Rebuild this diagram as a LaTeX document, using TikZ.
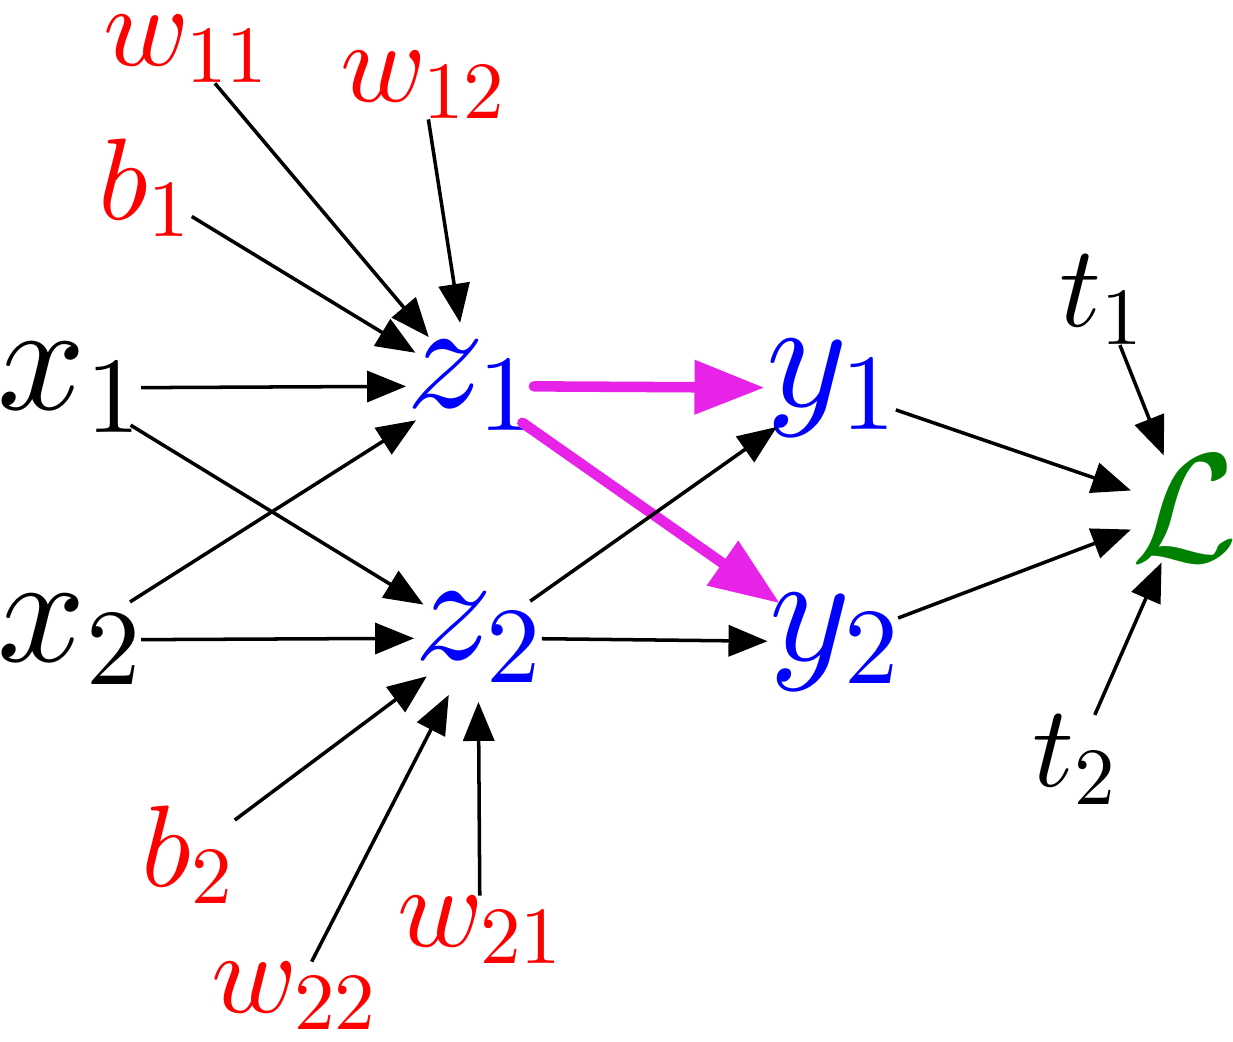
\RequirePackage{fix-cm}
\documentclass[tikz,border=0pt]{standalone}
\usetikzlibrary{arrows.meta}
\DeclareFontShape{OML}{cmm}{m}{it}{<->cmmi10}{}
\DeclareFontShape{OT1}{cmr}{m}{n}{<->cmr10}{}
\DeclareFontShape{OMS}{cmsy}{m}{n}{<->cmsy10}{}
\definecolor{gradmag}{RGB}{232,35,232}
\definecolor{lossgreen}{RGB}{0,128,0}

\begin{document}
\begin{tikzpicture}[
  big/.style={circle, inner sep=-3pt, font=\fontsize{44}{52}\selectfont},
  small/.style={rectangle, inner sep=0pt, font=\fontsize{33}{40}\selectfont},
  param/.style={small, text=red},
  unit/.style={big, text=blue},
  wire/.style={-{Triangle[length=3.9mm,width=3.1mm]}, line width=1pt},
  grad/.style={-{Triangle[length=7mm,width=5.2mm]}, line width=3pt, gradmag, line cap=round}
  ]
  \useasboundingbox (0,0) rectangle (12.33,10.41);
  % inputs and units
  \node[big] (x1) at (0.70,6.53) {$x_1$};
  \node[big] (x2) at (0.70,4.01) {$x_2$};
  \node[unit] (z1) at (4.70,6.55) {$z_1$};
  \node[unit] (z2) at (4.78,4.03) {$z_2$};
  \node[unit] (y1) at (8.32,6.53) {$y_1$};
  \node[unit] (y2) at (8.35,3.99) {$y_2$};
  \node[rectangle, inner sep=0pt, text=lossgreen, font=\fontsize{44}{52}\selectfont] (L) at (11.85,5.32) {$\mathcal{L}$};
  % weights, biases, targets
  \node[param] (w11) at (1.86,9.92) {$w_{11}$};
  \node[param] (w12) at (4.23,9.56) {$w_{12}$};
  \node[param] (b1) at (1.45,8.53) {$b_1$};
  \node[param] (b2) at (1.88,1.86) {$b_2$};
  \node[param] (w21) at (4.80,1.11) {$w_{21}$};
  \node[param] (w22) at (2.94,0.45) {$w_{22}$};
  \node[small] (t1) at (11.02,7.41) {$t_1$};
  \node[small] (t2) at (10.75,2.81) {$t_2$};

  \draw[grad] (z1) -- (y1);
  \draw[grad] (z1) -- (y2);
  \foreach \a/\b in {w11/z1, w12/z1, b1/z1, x1/z1, x2/z1, x1/z2, x2/z2, b2/z2, w21/z2, w22/z2,
                     z2/y1, z2/y2, y1/L, y2/L, t1/L, t2/L}
    \draw[wire] (\a) -- (\b);
\end{tikzpicture}
\end{document}
